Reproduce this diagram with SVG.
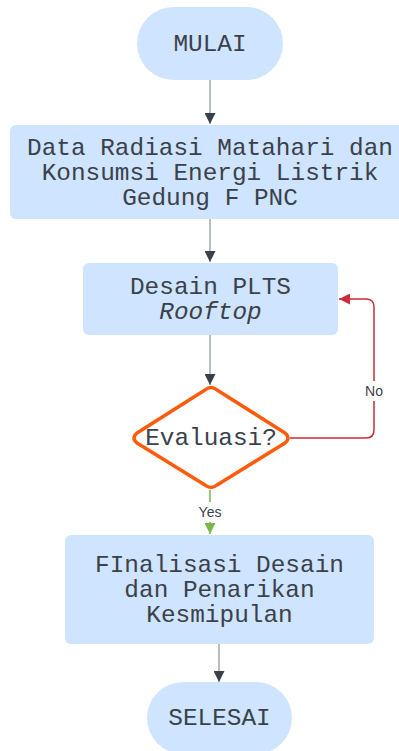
<svg xmlns="http://www.w3.org/2000/svg" width="399" height="751" viewBox="0 0 399 751">
<style>
.box{fill:#cfe4ff;stroke:none}
.t{font-family:"Liberation Mono","DejaVu Sans Mono",monospace;font-size:24.4px;fill:#3a414a;text-anchor:middle;dominant-baseline:central}
.lbl{font-family:"Liberation Sans",Arial,sans-serif;font-size:14px;fill:#3a414a;text-anchor:middle;dominant-baseline:central}
.ln{fill:none;stroke:#a3a7ab;stroke-width:1.5}
</style>
<defs>
<marker id="ah" viewBox="0 0 10 10" refX="10" refY="5" markerWidth="11" markerHeight="11" markerUnits="userSpaceOnUse" orient="auto"><path d="M0,0 L10,5 L0,10 Z" fill="#3a414a"/></marker>
<marker id="ahr" viewBox="0 0 10 10" refX="10" refY="5" markerWidth="11" markerHeight="11" markerUnits="userSpaceOnUse" orient="auto"><path d="M0,0 L10,5 L0,10 Z" fill="#c92d39"/></marker>
<marker id="ahg" viewBox="0 0 10 10" refX="10" refY="5" markerWidth="11" markerHeight="11" markerUnits="userSpaceOnUse" orient="auto"><path d="M0,0 L10,5 L0,10 Z" fill="#7ab648"/></marker>
</defs>
<rect width="399" height="751" fill="#ffffff"/>
<g id="connectors">
<path class="ln" d="M210,80 V124" marker-end="url(#ah)"/>
<path class="ln" d="M210,219 V262" marker-end="url(#ah)"/>
<path class="ln" d="M210,335 V385" marker-end="url(#ah)"/>
<path d="M290,438 H366 Q374,438 374,430 V307 Q374,299 366,299 H339" fill="none" stroke="#c92d39" stroke-width="1.5" marker-end="url(#ahr)"/>
<rect x="361" y="381" width="26" height="20" fill="#ffffff"/>
<text class="lbl" x="374" y="391">No</text>
<path d="M210,490 V534" fill="none" stroke="#7ab648" stroke-width="1.5" marker-end="url(#ahg)"/>
<rect x="194" y="502" width="32" height="20" fill="#ffffff"/>
<text class="lbl" x="210" y="512">Yes</text>
<path class="ln" d="M219,644 V682" stroke="#5e6670" marker-end="url(#ah)"/>
</g>
<g id="mulai">
<rect class="box" x="137" y="7" width="146" height="73" rx="36.5"/>
<text class="t" x="210" y="44">MULAI</text>
</g>
<g id="data">
<rect class="box" x="10" y="125" width="400" height="94" rx="6"/>
<text class="t" x="210" y="148">Data Radiasi Matahari dan</text>
<text class="t" x="210" y="173">Konsumsi Energi Listrik</text>
<text class="t" x="210" y="198">Gedung F PNC</text>
</g>
<g id="desain">
<rect class="box" x="83" y="263" width="255" height="72" rx="6"/>
<text class="t" x="210.5" y="287">Desain PLTS</text>
<text class="t" x="210.5" y="312" font-style="italic">Rooftop</text>
</g>
<g id="evaluasi">
<path d="M205,390 Q211,385 217,390 L285,433 Q291,438 285,443 L217,485 Q211,490 205,485 L137,443 Q131,438 137,433 Z" fill="#ffffff" stroke="#ff5b0a" stroke-width="3.5" stroke-linejoin="round"/>
<text class="t" x="211" y="438">Evaluasi?</text>
</g>
<g id="finalisasi">
<rect class="box" x="65" y="535" width="309" height="109" rx="6"/>
<text class="t" x="219.5" y="565">FInalisasi Desain</text>
<text class="t" x="219.5" y="590">dan Penarikan</text>
<text class="t" x="219.5" y="615">Kesmipulan</text>
</g>
<g id="selesai">
<rect class="box" x="147" y="682" width="145" height="72" rx="36"/>
<text class="t" x="219.5" y="718">SELESAI</text>
</g>
</svg>
